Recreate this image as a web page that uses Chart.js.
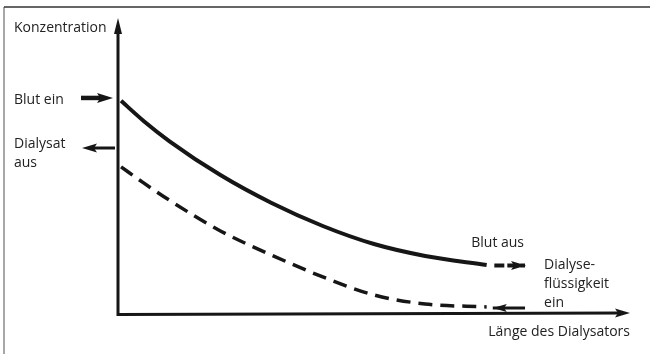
<!DOCTYPE html>
<html>
<head>
<meta charset="utf-8">
<script src="https://cdn.jsdelivr.net/npm/chart.js@4/dist/chart.umd.min.js"></script>
<style>
html,body{margin:0;padding:0;background:#fff;}
#wrap{width:650px;height:354px;position:relative;}
</style>
</head>
<body>
<div id="wrap"><canvas id="c"></canvas></div>
<script>
// Position along the dialyser (0..100) and concentrations (0..100)
const lengthPos     = [0.6, 5, 10, 20, 30, 40, 50, 60, 72];
const bloodConc     = [72.9, 66.0, 59.1, 47.4, 37.8, 29.9, 23.7, 19.6, 16.5];
const dialysateConc = [50.2, 44.7, 38.8, 28.2, 19.9, 12.4, 6.2, 3.1, 2.1];
// inflow / outflow arrows [x, y] in data units
const bloodOutArrow     = [[73.5, 16.3], [79.5, 16.3]];
const dialysateInArrow  = [[79.5, 1.7], [73.2, 1.7]];
const bloodInLevel      = 73.9;
const dialysateOutLevel = 56.7;
// labels
const axisYLabel = 'Konzentration';
const axisXLabel = 'Länge des Dialysators';
const lblBloodIn = 'Blut ein';
const lblDialOut = ['Dialysat', 'aus'];
const lblBloodOut = 'Blut aus';
const lblDialIn = ['Dialyse-', 'flüssigkeit', 'ein'];

const INK = '#161616';
const FONT = '14px "Open Sans", "Noto Sans", sans-serif';

function arrowHead(ctx, tipX, tipY, dir, len, half) {
  ctx.beginPath();
  ctx.moveTo(tipX, tipY);
  ctx.lineTo(tipX - dir * len, tipY - half);
  ctx.lineTo(tipX - dir * len * 0.8, tipY);
  ctx.lineTo(tipX - dir * len, tipY + half);
  ctx.closePath();
  ctx.fill();
}

const diagramPlugin = {
  id: 'diagram',
  beforeDraw(chart) {
    const ctx = chart.ctx;
    ctx.save();
    ctx.fillStyle = '#fff';
    ctx.fillRect(0, 0, chart.width, chart.height);
    // frame
    ctx.strokeStyle = '#8a8a8a';
    ctx.lineWidth = 1.5;
    ctx.beginPath(); ctx.moveTo(4, 7); ctx.lineTo(4, chart.height); ctx.stroke();
    ctx.strokeStyle = '#333';
    ctx.beginPath(); ctx.moveTo(4, 7); ctx.lineTo(chart.width, 7); ctx.stroke();
    ctx.restore();
  },
  afterDatasetsDraw(chart) {
    const ctx = chart.ctx;
    const xs = chart.scales.x, ys = chart.scales.y;
    const a = chart.chartArea;
    const x0 = xs.getPixelForValue(0), y0 = ys.getPixelForValue(0);
    ctx.save();
    ctx.strokeStyle = INK; ctx.fillStyle = INK;
    // axes
    ctx.lineWidth = 3;
    ctx.lineCap = 'butt';
    ctx.beginPath();
    ctx.moveTo(x0, a.top + 4);
    ctx.lineTo(x0, y0 + 1.5);
    ctx.lineTo(a.right - 8, y0);
    ctx.stroke();
    // axis arrowheads
    ctx.beginPath();
    ctx.moveTo(x0, a.top - 4);
    ctx.lineTo(x0 - 4, a.top + 12);
    ctx.lineTo(x0 + 4, a.top + 12);
    ctx.closePath(); ctx.fill();
    arrowHead(ctx, a.right, y0, 1, 15, 4.5);

    // blood in arrow (left of axis)
    const yb = ys.getPixelForValue(bloodInLevel);
    ctx.lineWidth = 4.5;
    ctx.beginPath(); ctx.moveTo(x0 - 37, yb); ctx.lineTo(x0 - 14, yb); ctx.stroke();
    arrowHead(ctx, x0 - 5, yb, 1, 16, 5);
    // dialysate out arrow
    const yd = ys.getPixelForValue(dialysateOutLevel);
    ctx.lineWidth = 3;
    ctx.beginPath(); ctx.moveTo(x0 - 3, yd); ctx.lineTo(x0 - 24, yd); ctx.stroke();
    arrowHead(ctx, x0 - 36, yd, -1, 15, 4.5);

    // blood out arrowhead
    const bo = bloodOutArrow[1];
    arrowHead(ctx, xs.getPixelForValue(bo[0]) + 1, ys.getPixelForValue(bo[1]), 1, 15, 4.5);
    // dialysate in arrowhead
    const di = dialysateInArrow[1];
    arrowHead(ctx, xs.getPixelForValue(di[0]), ys.getPixelForValue(di[1]), -1, 14, 4);

    // texts
    ctx.font = FONT;
    ctx.fillStyle = '#222';
    ctx.textBaseline = 'alphabetic';
    ctx.textAlign = 'left';
    ctx.fillText(axisYLabel, 14, a.top + 10);
    ctx.fillText(lblBloodIn, 14, yb + 6);
    ctx.fillText(lblDialOut[0], 14, yd);
    ctx.fillText(lblDialOut[1], 14, yd + 19);
    ctx.textAlign = 'right';
    ctx.fillText(lblBloodOut, xs.getPixelForValue(bo[0]) - 1, ys.getPixelForValue(bo[1]) - 19);
    ctx.fillText(axisXLabel, a.right, y0 + 23);
    ctx.textAlign = 'left';
    const lx = xs.getPixelForValue(bo[0]) + 19;
    const ly = ys.getPixelForValue(bo[1]) + 3;
    lblDialIn.forEach((t, i) => ctx.fillText(t, lx, ly + i * 19));
    ctx.restore();
  }
};

const pts = (ys) => lengthPos.map((x, i) => ({ x, y: ys[i] }));
const arr = (a) => a.map(p => ({ x: p[0], y: p[1] }));

new Chart(document.getElementById('c'), {
  type: 'scatter',
  data: {
    datasets: [
      { label: 'Blut', data: pts(bloodConc), showLine: true, borderColor: INK, borderWidth: 4,
        pointRadius: 0, tension: 0.4, cubicInterpolationMode: 'monotone', borderCapStyle: 'butt' },
      { label: 'Dialysat', data: pts(dialysateConc), showLine: true, borderColor: INK, borderWidth: 3.5,
        borderDash: [14, 8], pointRadius: 0, tension: 0.4, cubicInterpolationMode: 'monotone' },
      { label: 'Blut aus', data: arr(bloodOutArrow), showLine: true, borderColor: INK, borderWidth: 4,
        borderDash: [10, 3], pointRadius: 0 },
      { label: 'Dialyse ein', data: arr(dialysateInArrow), showLine: true, borderColor: INK, borderWidth: 3,
        pointRadius: 0 }
    ]
  },
  options: {
    responsive: true,
    maintainAspectRatio: false,
    animation: false,
    layout: { padding: { left: 118, right: 20, top: 22, bottom: 41 } },
    plugins: { legend: { display: false }, tooltip: { enabled: false } },
    scales: {
      x: { type: 'linear', min: 0, max: 100, display: false },
      y: { type: 'linear', min: 0, max: 100, display: false }
    }
  },
  plugins: [diagramPlugin]
});
</script>
</body>
</html>
